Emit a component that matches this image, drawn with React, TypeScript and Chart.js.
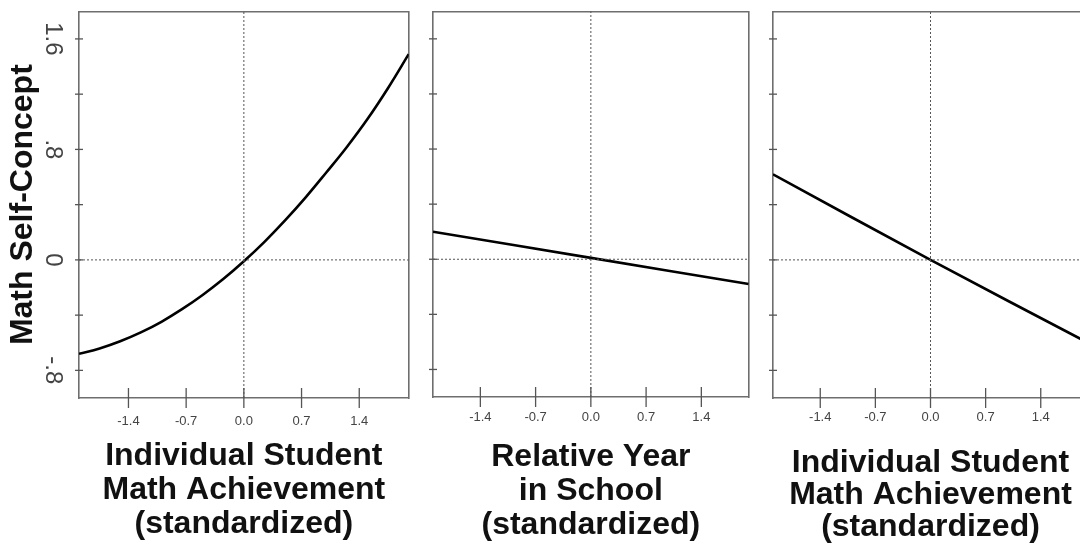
import React, { useEffect, useRef } from 'react';
import { Chart, registerables } from 'chart.js';

Chart.register(...registerables);

// ---- data ----
const X_MIN = -2;
const X_MAX = 2;
const Y_MIN = -1.0;
const Y_MAX = 1.8;

const xTickValues = [-1.4, -0.7, 0, 0.7, 1.4];
const xTickLabels = ['-1.4', '-0.7', '0.0', '0.7', '1.4'];
const yTickValues = [-0.8, -0.4, 0, 0.4, 0.8, 1.2, 1.6];
const yLabelValues = [-0.8, 0, 0.8, 1.6];
const yLabelTexts = ['-.8', '0', '.8', '1.6'];

// Panel 1: individual achievement (curved)
const achX = [-2, -1.75, -1.5, -1.25, -1, -0.75, -0.5, -0.25, 0, 0.25, 0.5, 0.75, 1, 1.25, 1.5, 1.75, 2];
const achY = [-0.68, -0.641, -0.589, -0.525, -0.448, -0.357, -0.254, -0.139, -0.01, 0.131, 0.286, 0.453, 0.633, 0.818, 1.02, 1.245, 1.49];
// Panel 2: relative year in school
const yearX = [-2, 0, 2];
const yearY = [0.2, 0.01, -0.18];
// Panel 3: individual achievement (second model)
const ach2X = [-2, 0, 2];
const ach2Y = [0.62, 0.0, -0.6];

// reference (zero) lines
const zeroHX = [-2, 2];
const zeroHY = [0, 0];
const zeroVX = [0, 0];
const zeroVY = [-1.0, 1.8];

const yAxisTitle = 'Math Self-Concept';
const title1 = ['Individual Student', 'Math Achievement', '(standardized)'];
const title2 = ['Relative Year', 'in School', '(standardized)'];
const title3 = ['Individual Student', 'Math Achievement', '(standardized)'];

// ---- layout / style ----
type Spec = {
  left: number;
  width: number;
  yW: number;
  y2W: number;
  topH: number;
  bottomH: number;
  tickPad: number;
  titlePadB: number;
  lineH: number;
  fontSize: number;
  showY: boolean;
  xs: number[];
  ys: number[];
  title: string[];
};

const H = 543;
const BOX = '#6e6e6e';
const FONT = "'Liberation Sans', Arial, Helvetica, sans-serif";

const specs: Spec[] = [
  { left: 0, width: 420, yW: 79, y2W: 10, topH: 11, bottomH: 145, tickPad: 16, titlePadB: 2, lineH: 34, fontSize: 32, showY: true, xs: achX, ys: achY, title: title1 },
  { left: 420, width: 340, yW: 13, y2W: 11, topH: 8, bottomH: 146, tickPad: 13, titlePadB: 1, lineH: 34, fontSize: 32, showY: false, xs: yearX, ys: yearY, title: title2 },
  { left: 760, width: 340, yW: 13, y2W: 12, topH: 8, bottomH: 145, tickPad: 12, titlePadB: 0, lineH: 32, fontSize: 32, showY: false, xs: ach2X, ys: ach2Y, title: title3 },
];

function pts(xs: number[], ys: number[]) {
  return xs.map((x, i) => ({ x, y: ys[i] }));
}

function noPad(s: any) {
  s.paddingTop = 0;
  s.paddingBottom = 0;
  s.paddingLeft = 0;
  s.paddingRight = 0;
}

function buildConfig(p: Spec): any {
  return {
    type: 'scatter',
    data: {
      datasets: [
        {
          type: 'line',
          data: pts(zeroHX, zeroHY),
          borderColor: '#555',
          borderWidth: 1,
          borderDash: [2, 2],
          pointRadius: 0,
        },
        {
          type: 'line',
          data: pts(zeroVX, zeroVY),
          borderColor: '#555',
          borderWidth: 1,
          borderDash: [2, 2],
          pointRadius: 0,
        },
        {
          type: 'line',
          data: pts(p.xs, p.ys),
          borderColor: '#000',
          borderWidth: 2.6,
          pointRadius: 0,
          tension: 0.4,
        },
        {
          type: 'scatter',
          data: xTickValues.map((v) => ({ x: v, y: Y_MIN })),
          pointStyle: 'line',
          rotation: 90,
          pointRadius: 10,
          borderColor: '#555',
          borderWidth: 1.3,
          clip: false,
        },
        {
          type: 'scatter',
          data: yTickValues.map((v) => ({ x: X_MIN, y: v })),
          pointStyle: 'line',
          rotation: 0,
          pointRadius: 4,
          borderColor: '#555',
          borderWidth: 1.3,
          clip: false,
        },
      ],
    },
    options: {
      responsive: false,
      animation: false,
      events: [],
      layout: { padding: 0 },
      plugins: { legend: { display: false }, tooltip: { enabled: false } },
      scales: {
        x: {
          type: 'linear',
          position: 'bottom',
          min: X_MIN,
          max: X_MAX,
          afterBuildTicks: (s: any) => {
            s.ticks = xTickValues.map((v) => ({ value: v }));
          },
          afterFit: (s: any) => {
            s.height = p.bottomH;
            noPad(s);
          },
          grid: { display: false, drawTicks: false },
          border: { display: true, color: BOX, width: 1.6 },
          ticks: {
            autoSkip: false,
            maxRotation: 0,
            minRotation: 0,
            padding: p.tickPad,
            color: '#444',
            font: { family: FONT, size: 13 },
            callback: (v: number) => xTickLabels[xTickValues.indexOf(v)] ?? '',
          },
          title: {
            display: true,
            text: p.title,
            color: '#111',
            font: { family: FONT, size: p.fontSize, weight: 'bold', lineHeight: p.lineH + 'px' },
            padding: { top: 0, bottom: p.titlePadB },
          },
        },
        x2: {
          type: 'linear',
          position: 'top',
          min: X_MIN,
          max: X_MAX,
          afterFit: (s: any) => {
            s.height = p.topH;
            noPad(s);
          },
          grid: { display: false, drawTicks: false },
          border: { display: true, color: BOX, width: 1.6 },
          ticks: { display: false },
        },
        y: {
          type: 'linear',
          position: 'left',
          min: Y_MIN,
          max: Y_MAX,
          afterBuildTicks: (s: any) => {
            s.ticks = yLabelValues.map((v) => ({ value: v }));
          },
          afterFit: (s: any) => {
            s.width = p.yW;
            noPad(s);
          },
          grid: { display: false, drawTicks: false },
          border: { display: true, color: BOX, width: 1.6 },
          ticks: {
            display: p.showY,
            autoSkip: false,
            minRotation: -90,
            maxRotation: -90,
            crossAlign: 'center',
            padding: 10,
            color: '#444',
            font: { family: FONT, size: 24 },
            callback: (v: number) => yLabelTexts[yLabelValues.indexOf(v)] ?? '',
          },
          title: {
            display: p.showY,
            text: yAxisTitle,
            color: '#111',
            font: { family: FONT, size: 32, weight: 'bold' },
            padding: { top: 4, bottom: 0 },
          },
        },
        y2: {
          type: 'linear',
          position: 'right',
          min: Y_MIN,
          max: Y_MAX,
          afterFit: (s: any) => {
            s.width = p.y2W;
            noPad(s);
          },
          grid: { display: false, drawTicks: false },
          border: { display: true, color: BOX, width: 1.6 },
          ticks: { display: false },
        },
      },
    },
  };
}

function Panel({ spec }: { spec: Spec }) {
  const ref = useRef<HTMLCanvasElement>(null);
  useEffect(() => {
    if (!ref.current) return;
    const chart = new Chart(ref.current, buildConfig(spec));
    return () => chart.destroy();
  }, [spec]);
  return (
    <canvas
      ref={ref}
      width={spec.width}
      height={H}
      style={{ position: 'absolute', left: spec.left, top: 0, width: spec.width, height: H }}
    />
  );
}

export default function App() {
  return (
    <div
      style={{
        position: 'absolute',
        left: 0,
        top: 0,
        width: 1080,
        height: H,
        overflow: 'hidden',
        background: '#fff',
      }}
    >
      {specs.map((s, i) => (
        <Panel key={i} spec={s} />
      ))}
    </div>
  );
}
